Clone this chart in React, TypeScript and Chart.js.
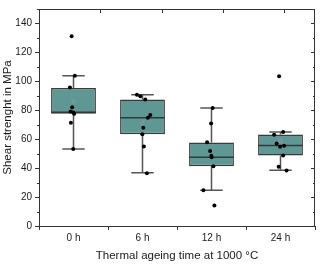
import { useEffect, useRef } from 'react';
import { Chart, registerables } from 'chart.js';
Chart.register(...registerables);

const categories = ['0 h', '6 h', '12 h', '24 h'];
const q1 = [77.6, 63.5, 41.3, 48.7];
const q3 = [95.4, 87.5, 57.7, 63.3];
const medians = [78.7, 74.9, 47.6, 55.6];
const whiskerLow = [53.2, 36.8, 24.7, 38.6];
const whiskerHigh = [103.8, 90.8, 81.6, 65.0];
const means = [86.1, 71.3, 48.5, 58.7];
const yTickValues = [0, 20, 40, 60, 80, 100, 120, 140];

const values0h = [131.2, 103.8, 95.8, 82.1, 79.2, 78.5, 77.6, 71.3, 53.2];
const jitter0h = [-0.027, 0.02, -0.052, -0.019, -0.042, -0.004, 0.01, -0.038, -0.004];
const values6h = [90.8, 89.7, 87.5, 76.7, 74.9, 68.0, 63.5, 55.0, 36.5];
const jitter6h = [-0.081, -0.032, 0.04, 0.113, 0.078, 0.012, -0.003, 0.02, 0.064];
const values12h = [81.6, 70.9, 57.9, 51.8, 48.5, 47.6, 41.3, 24.7, 14.1];
const jitter12h = [0.017, -0.006, -0.064, -0.02, -0.003, 0.003, 0.027, -0.117, 0.042];
const values24h = [103.6, 65.0, 63.0, 57.1, 54.8, 55.5, 48.7, 41.0, 38.4];
const jitter24h = [-0.02, 0.038, -0.092, -0.056, -0.006, 0.052, 0.038, -0.027, 0.088];

const groupValues = [values0h, values6h, values12h, values24h];
const groupJitter = [jitter0h, jitter6h, jitter12h, jitter24h];

const BOX_FRACTION = 0.65;
const HALF_BOX = BOX_FRACTION / 2;
const CAP = HALF_BOX / 2;
const FONT = "'Liberation Sans', Arial, sans-serif";
const AXIS_COLOR = '#333333';

const framePlugin = {
  id: 'frame',
  afterDraw(chart: any) {
    const { ctx, chartArea } = chart;
    const { left, right, top, bottom } = chartArea;
    const yScale = chart.scales.y;
    ctx.save();
    ctx.strokeStyle = AXIS_COLOR;
    ctx.lineWidth = 1;
    ctx.strokeRect(left + 0.5, top + 0.5, right - left - 1, bottom - top);
    ctx.beginPath();
    for (let v = 0; v <= 150; v += 10) {
      const y = Math.round(yScale.getPixelForValue(v)) + 0.5;
      const major = v % 20 === 0;
      if (!major) {
        ctx.moveTo(left - 2, y);
        ctx.lineTo(left, y);
      }
      ctx.moveTo(right, y);
      ctx.lineTo(right - (major ? 4 : 2), y);
    }
    for (let k = 1; k <= 4; k++) {
      const x = Math.round(left + ((right - left) * 2 * k) / 9) + 0.5;
      ctx.moveTo(x, top);
      ctx.lineTo(x, top + 4);
    }
    ctx.stroke();
    ctx.restore();
  },
};

export default function App() {
  const ref = useRef<HTMLCanvasElement | null>(null);
  useEffect(() => {
    if (!ref.current) return;
    const whiskers: any[] = [];
    const medianLines: any[] = [];
    categories.forEach((_, i) => {
      whiskers.push(
        { x: i, y: q3[i] }, { x: i, y: whiskerHigh[i] }, { x: i, y: null },
        { x: i - CAP, y: whiskerHigh[i] }, { x: i + CAP, y: whiskerHigh[i] }, { x: i, y: null },
        { x: i, y: q1[i] }, { x: i, y: whiskerLow[i] }, { x: i, y: null },
        { x: i - CAP, y: whiskerLow[i] }, { x: i + CAP, y: whiskerLow[i] }, { x: i, y: null }
      );
      medianLines.push({ x: i - HALF_BOX, y: medians[i] }, { x: i + HALF_BOX, y: medians[i] }, { x: i, y: null });
    });
    const points: any[] = [];
    groupValues.forEach((vals, i) => {
      vals.forEach((v, j) => points.push({ x: i + groupJitter[i][j], y: v }));
    });

    const chart = new Chart(ref.current, {
      type: 'bar',
      data: {
        datasets: [
          {
            type: 'line',
            data: whiskers,
            borderColor: '#555555',
            borderWidth: 1.5,
            pointRadius: 0,
            spanGaps: false,
            fill: false,
            order: 5,
          } as any,
          {
            type: 'bar',
            data: categories.map((_, i) => ({ x: i, y: [q1[i], q3[i]] })),
            backgroundColor: '#5e9794',
            borderColor: '#3a3a3a',
            borderWidth: 1.5,
            borderSkipped: false,
            barPercentage: BOX_FRACTION,
            categoryPercentage: 1,
            order: 4,
          } as any,
          {
            type: 'line',
            data: medianLines,
            borderColor: '#2e3a3a',
            borderWidth: 1.5,
            pointRadius: 0,
            spanGaps: false,
            fill: false,
            order: 3,
          } as any,
          {
            type: 'scatter',
            data: categories.map((_, i) => ({ x: i, y: means[i] })),
            pointStyle: 'rect',
            pointRadius: 2,
            borderColor: '#8a9a9a',
            backgroundColor: 'rgba(0,0,0,0)',
            borderWidth: 1,
            order: 2,
          } as any,
          {
            type: 'scatter',
            data: points,
            pointRadius: 2,
            backgroundColor: '#000000',
            borderWidth: 0,
            order: 1,
          } as any,
        ],
      },
      options: {
        animation: false,
        responsive: false,
        devicePixelRatio: 1,
        layout: { padding: { left: 0, right: 4, top: 3, bottom: 0 } },
        plugins: { legend: { display: false }, tooltip: { enabled: false } },
        scales: {
          x: {
            type: 'linear',
            min: -0.5,
            max: 3.5,
            offset: false,
            afterBuildTicks: (s: any) => {
              s.ticks = categories.map((_, i) => ({ value: i }));
            },
            afterFit: (s: any) => {
              s.height = 39;
            },
            ticks: {
              callback: (v: any) => categories[v] ?? '',
              font: { family: FONT, size: 10 },
              color: '#1a1a1a',
              padding: 2,
              maxRotation: 0,
            },
            grid: { drawOnChartArea: false, tickLength: 4, tickColor: AXIS_COLOR, tickWidth: 1 },
            border: { color: AXIS_COLOR, width: 1 },
            title: {
              display: true,
              text: 'Thermal ageing time at 1000 °C',
              font: { family: FONT, size: 11.5 },
              color: '#1a1a1a',
              padding: { top: 0, bottom: 2 },
            },
          },
          y: {
            type: 'linear',
            min: 0,
            max: 150,
            afterBuildTicks: (s: any) => {
              s.ticks = yTickValues.map((v) => ({ value: v }));
            },
            afterFit: (s: any) => {
              s.width = 39;
            },
            ticks: {
              font: { family: FONT, size: 10 },
              color: '#1a1a1a',
              padding: 3,
            },
            grid: { drawOnChartArea: false, tickLength: 4, tickColor: AXIS_COLOR, tickWidth: 1 },
            border: { color: AXIS_COLOR, width: 1 },
            title: {
              display: true,
              text: 'Shear strenght in MPa',
              font: { family: FONT, size: 11.5 },
              color: '#1a1a1a',
              padding: { top: 1, bottom: 0 },
            },
          },
        },
      } as any,
      plugins: [framePlugin],
    });
    return () => chart.destroy();
  }, []);
  return (
    <canvas
      ref={ref}
      width={320}
      height={265}
      style={{ position: 'absolute', left: 0, top: 0, width: 320, height: 265 }}
    />
  );
}
